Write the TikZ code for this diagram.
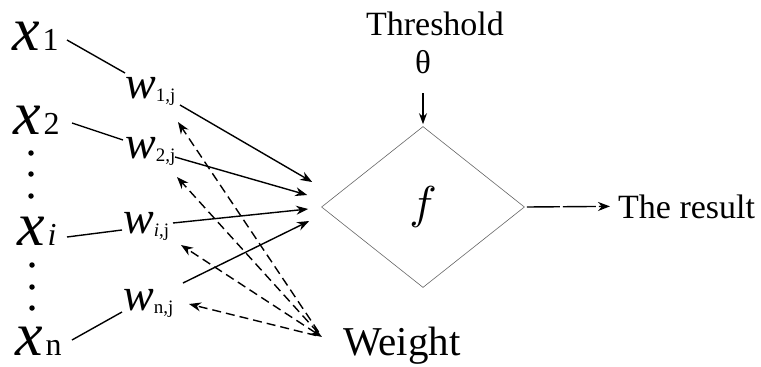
\documentclass[tikz,border=0pt]{standalone}
\usepackage{fontspec}
\usepackage{graphicx}
\setmainfont{Liberation Serif}
\usetikzlibrary{arrows.meta,calc,shapes.geometric}
\newcommand\bigxx{{\fontsize{62}{62}\selectfont\itshape x}\hspace{3pt}}
\newcommand\xsubb[1]{{\fontsize{32}{32}\selectfont #1}}
\newcommand\wlett{{\fontsize{46}{46}\selectfont\itshape w}}
\newcommand\wsubb[1]{\raisebox{-3pt}{\fontsize{19}{19}\selectfont #1}}
\begin{document}
\begin{tikzpicture}[x=1pt,y=-1pt,
  lbl/.style={anchor=base west,inner sep=0pt},
  conn/.style={line width=1.4pt},
  tip/.style={-{Stealth[length=12pt,width=9pt]}},
  arr/.style={conn,tip},
  darr/.style={conn,dash pattern=on 9pt off 5pt,tip},
  dot/.style={circle,fill,inner sep=0pt,minimum size=5.5pt}
]
\useasboundingbox (0,0) rectangle (761,367);
% inputs
\node[lbl] (x1) at (12,50) {\bigxx\xsubb{1}};
\node[lbl] (x2) at (13,134) {\bigxx\xsubb{2}};
\node[lbl] (xi) at (17,245) {\bigxx\xsubb{\itshape i}};
\node[lbl] (xn) at (15,355) {\bigxx\xsubb{n}};
% dots
\node[dot] (d1) at (31,153) {};
\node[dot] (d2) at (31,174) {};
\node[dot] (d3) at (31,196) {};
\node[dot] (d4) at (32,265) {};
\node[dot] (d5) at (32,287) {};
\node[dot] (d6) at (32,308) {};
% weights
\node[lbl] (w1) at (125,98) {\wlett\wsubb{1,j}};
\node[lbl] (w2) at (125,158) {\wlett\wsubb{2,j}};
\node[lbl] (wi) at (123,233) {\wlett\wsubb{{\itshape i},j}};
\node[lbl] (wn) at (123,310) {\wlett\wsubb{n,j}};
% diamond
\node[diamond,draw=black!60,line width=0.6pt,minimum width=203pt,minimum height=161pt,inner sep=0pt,aspect=1.26] (dia) at (423,207) {\raisebox{-3pt}{\scalebox{4.6}{$f$}}};
% texts
\node[anchor=base,inner sep=0pt] (thr) at (435,35) {\fontsize{34}{34}\selectfont Threshold};
\node[anchor=base,inner sep=0pt] (th) at (423,73) {\fontsize{33}{33}\selectfont θ};
\node[lbl] (res) at (618,218) {\fontsize{34}{34}\selectfont The result};
\node[lbl] (wt) at (343,355) {\fontsize{41}{41}\selectfont Weight};
\coordinate (wc) at ($(wt.base west)+(-21,-18)$);
% input lines
\draw[conn] ($(x1.base west)+(55,-10)$) -- ($(w1.base west)+(0,-25)$);
\draw[conn] ($(x2.base west)+(59,-11)$) -- ($(w2.base west)+(-2,-18)$);
\draw[conn] ($(xi.base west)+(50,-8)$) -- ($(wi.base west)+(-1,-3)$);
\draw[conn] ($(xn.base west)+(57,-15)$) -- ($(wn.base west)+(-1,2)$);
% weighted arrows
\draw[arr] ($(w1.base west)+(55,7)$) -- ($(dia.west)+(-9,-25)$);
\draw[arr] ($(w2.base west)+(50,-1)$) -- ($(dia.west)+(-14,-12)$);
\draw[arr] ($(wi.base west)+(50,-10)$) -- ($(dia.west)+(-13,2)$);
\draw[arr] ($(wn.base west)+(60,-27)$) -- ($(dia.west)+(-12,14)$);
% dashed weight arrows
\draw[darr,shorten <=6pt] (wc) -- ($(w1.base west)+(53,24)$);
\draw[darr,shorten <=6pt] (wc) -- ($(w2.base west)+(52,19)$);
\draw[darr,{Stealth[length=12pt,width=9pt]}-{Stealth[length=12pt,width=9pt]}] (wc) -- ($(wi.base west)+(58,12)$);
\draw[darr,shorten <=6pt] (wc) -- ($(wn.base west)+(66,-6)$);
% threshold arrow
\draw[conn,-{Stealth[length=11pt,width=8pt]}] ($(th.base)+(0,20)$) -- ($(dia.north)+(0,-2)$);
% result arrow
\draw[conn,dash pattern=on 33pt off 3pt,tip] ($(dia.east)+(2,0)$) -- ($(res.west)+(-8,0)$);
\end{tikzpicture}
\end{document}
